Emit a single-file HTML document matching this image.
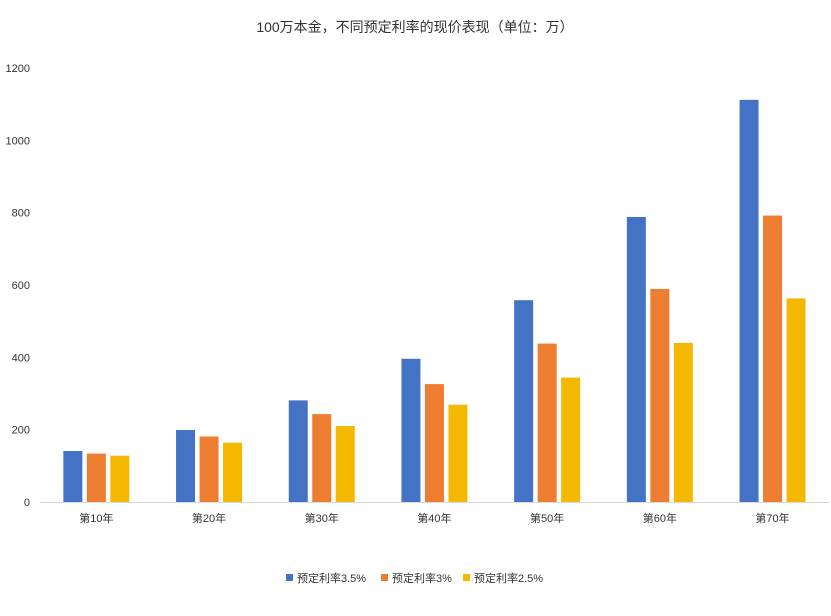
<!DOCTYPE html>
<html><head><meta charset="utf-8">
<style>
body{margin:0;background:#fff;font-family:"Liberation Sans","Noto Sans CJK SC",sans-serif;}
svg text{font-family:"Liberation Sans","Noto Sans CJK SC",sans-serif;}
</style></head>
<body>
<svg width="831" height="611" viewBox="0 0 831 611" xmlns="http://www.w3.org/2000/svg">
<rect width="831" height="611" fill="#fff"/>
<text x="415" y="32" text-anchor="middle" font-size="14" fill="#333">100万本金，不同预定利率的现价表现（单位：万）</text>
<g id="axis"></g>
<g id="bars"></g>
<g id="legend"></g>
</svg>
<script>
const categories=["第10年","第20年","第30年","第40年","第50年","第60年","第70年"];
const seriesNames=["预定利率3.5%","预定利率3%","预定利率2.5%"];
const s35=[141,199,281,396,558,788,1112];
const s3=[134,181,243,326,438,589,792];
const s25=[128,164,210,269,344,440,563];
const yTicks=[0,200,400,600,800,1000,1200];
const colors=["#4472C4","#ED7D31","#F5B800"];
const NS="http://www.w3.org/2000/svg";
const y0=502,y1=68,yMax=1200;
const y=v=>y0-(v/yMax)*(y0-y1);
const xStart=40,groupW=112.7;
const x=i=>xStart+groupW*(i+0.5);
const bw=19,gap=4.5;
const axis=document.getElementById('axis');
yTicks.forEach(t=>{
 const tx=document.createElementNS(NS,'text');
 tx.setAttribute('x',30);tx.setAttribute('y',y(t)+4);
 tx.setAttribute('text-anchor','end');tx.setAttribute('font-size','11');tx.setAttribute('fill','#333');
 tx.textContent=t;
 
 
 axis.appendChild(tx);
});
const base=document.createElementNS(NS,'line');
base.setAttribute('x1',40);base.setAttribute('x2',829);base.setAttribute('y1',y0+0.5);base.setAttribute('y2',y0+0.5);
base.setAttribute('stroke','#d9d9d9');


axis.appendChild(base);
categories.forEach((c,i)=>{
 const tx=document.createElementNS(NS,'text');
 tx.setAttribute('x',x(i));tx.setAttribute('y',522);
 tx.setAttribute('text-anchor','middle');tx.setAttribute('font-size','11');tx.setAttribute('fill','#333');
 tx.textContent=c;
 
 
 axis.appendChild(tx);
});
const bars=document.getElementById('bars');
[s35,s3,s25].forEach((s,k)=>{
 s.forEach((v,i)=>{
  const r=document.createElementNS(NS,'rect');
  const cx=x(i)+(k-1)*(bw+gap);
  r.setAttribute('x',cx-bw/2);r.setAttribute('y',y(v));
  r.setAttribute('width',bw);r.setAttribute('height',y0-y(v));
  r.setAttribute('fill',colors[k]);
  
  
  bars.appendChild(r);
 });
});
const legend=document.getElementById('legend');
const lx=[286,381,463];
seriesNames.forEach((n,k)=>{
 const g=document.createElementNS(NS,'g');
 
 
 const r=document.createElementNS(NS,'rect');
 r.setAttribute('x',lx[k]);r.setAttribute('y',574);r.setAttribute('width',7);r.setAttribute('height',7);
 r.setAttribute('fill',colors[k]);
 
 
 const t=document.createElementNS(NS,'text');
 t.setAttribute('x',lx[k]+11);t.setAttribute('y',582);t.setAttribute('font-size','11');t.setAttribute('fill','#333');
 t.textContent=n;
 
 
 g.appendChild(r);g.appendChild(t);legend.appendChild(g);
});
</script>
</body></html>
